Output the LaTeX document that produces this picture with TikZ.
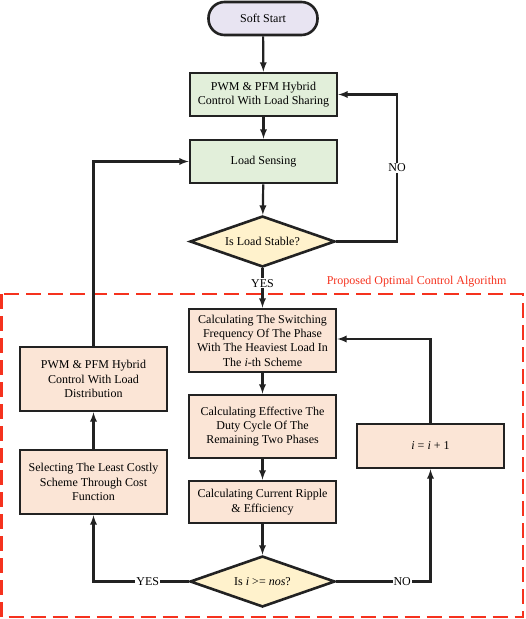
\documentclass[tikz,border=0pt]{standalone}
\usepackage{fontspec}
\setmainfont{Liberation Serif}
\usetikzlibrary{shapes.geometric}
\definecolor{boxline}{HTML}{222222}
\definecolor{greenfill}{HTML}{E2EFDA}
\definecolor{orangefill}{HTML}{FBE5D6}
\definecolor{yellowfill}{HTML}{FFF2CC}
\definecolor{lilacfill}{HTML}{E8E4F2}
\definecolor{algored}{HTML}{F5321E}

\begin{document}
\begin{tikzpicture}[>=latex, x=1pt, y=-1pt,
    every node/.style={font=\fontsize{12}{14.3}\selectfont},
    box/.style={draw=boxline, line width=2.6pt, align=center, minimum width=147pt, inner sep=2pt},
    greenbox/.style={box, fill=greenfill, minimum height=43pt},
    orangebox/.style={box, fill=orangefill},
    choice/.style={draw=boxline, line width=2.6pt, diamond, fill=yellowfill, inner sep=0pt,
      aspect=2.8, minimum width=145pt, minimum height=51pt},
    flow/.style={->, line width=2.2pt, draw=boxline},
    tag/.style={fill=white, inner sep=1pt}]
    \useasboundingbox (0,0) rectangle (526,619);

    \node[draw=boxline, line width=2.6pt, fill=lilacfill, rounded corners=16pt,
      minimum width=109pt, minimum height=33pt] (soft) at (263,18.5) {Soft Start};
    \node[greenbox] (hybrid) at (263.5,94.5) {PWM \& PFM Hybrid\\Control With Load Sharing};
    \node[greenbox] (sensing) at (263.5,161.5) {Load Sensing};
    \node[choice] (stable) at (262.5,241.5) {Is Load Stable?};

    % optimal control algorithm
    \draw[algored, line width=2.8pt, dash pattern=on 15pt off 7pt] (1.5,294) rectangle (523,617);
    \node[algored, anchor=east] (algo) at (510,282) {Proposed Optimal Control Algorithm};

    \node[orangebox, minimum height=63pt] (switching) at (262.5,340.5)
      {Calculating The Switching\\Frequency Of The Phase\\With The Heaviest Load In\\The \textit{i}-th Scheme};
    \node[orangebox, minimum height=63pt] (duty) at (262.5,426.5)
      {Calculating Effective The\\Duty Cycle Of The\\Remaining Two Phases};
    \node[orangebox, minimum height=42pt] (ripple) at (262.5,502)
      {Calculating Current Ripple\\\& Efficiency};
    \node[choice] (check) at (262.5,581.5) {Is \textit{i} >= \textit{nos}?};
    \node[orangebox, minimum height=44pt] (incr) at (430.5,446) {\textit{i} = \textit{i} + 1};
    \node[orangebox, minimum height=64pt] (select) at (93.5,482)
      {Selecting The Least Costly\\Scheme Through Cost\\Function};
    \node[orangebox, minimum height=64pt] (distrib) at (93.5,379)
      {PWM \& PFM Hybrid\\Control With Load\\Distribution};

    \coordinate (noturn) at (397,241.5);
    \coordinate (loopturn) at (430.5,339);

    \draw[flow] (soft) -- (hybrid);
    \draw[flow] (hybrid) -- (sensing);
    \draw[flow] (sensing) -- (stable);
    \draw[flow] (stable.east) -- (noturn) -- node[tag] {NO} (noturn |- hybrid.east) -- (hybrid.east);
    \draw[flow] (stable) -- node[tag, pos=.38] {YES} (switching);
    \draw[flow] (switching) -- (duty);
    \draw[flow] (duty) -- (ripple);
    \draw[flow] (ripple) -- (check);
    \draw[flow] (check.east) -- node[tag, pos=.7] {NO} (check.east -| incr) -- (incr);
    \draw[flow] (incr) -- (loopturn) -- (loopturn -| switching.east);
    \draw[flow] (check.west) -- node[tag, pos=.43] {YES} (check.west -| select) -- (select);
    \draw[flow] (select) -- (distrib);
    \draw[flow] (distrib) -- (distrib |- sensing) -- (sensing);
  \end{tikzpicture}
\end{document}
